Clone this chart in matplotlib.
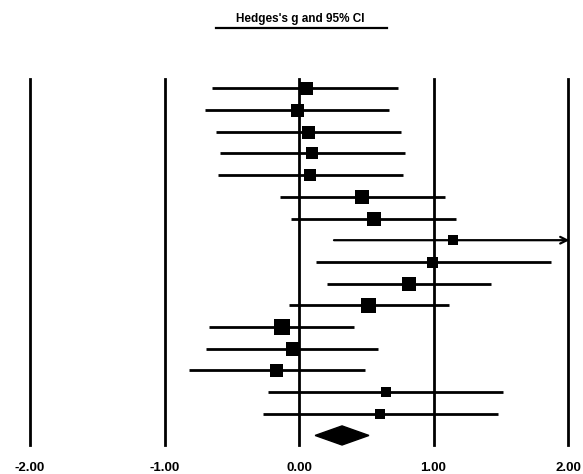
import matplotlib
matplotlib.use("Agg")
import matplotlib.pyplot as plt
from matplotlib.lines import Line2D

plt.rcParams['font.family'] = ['Liberation Sans', 'DejaVu Sans']

# Hedges's g, lower and upper 95% limits for each study (top to bottom)
g = [0.05, -0.015, 0.067, 0.10, 0.082, 0.47, 0.555, 1.145, 0.99, 0.82,
     0.515, -0.13, -0.045, -0.17, 0.645, 0.605]
lower = [-0.645, -0.70, -0.62, -0.59, -0.60, -0.14, -0.057, 0.26, 0.124, 0.21,
         -0.077, -0.667, -0.69, -0.82, -0.23, -0.27]
upper = [0.734, 0.67, 0.76, 0.79, 0.77, 1.085, 1.167, 2.5, 1.87, 1.43,
         1.113, 0.407, 0.59, 0.49, 1.52, 1.48]
# relative study weights (drives box size)
weights = [13, 13, 13, 12, 12, 14, 14, 10, 11, 14, 15, 16, 14, 13, 10, 10]

# summary effect
summary_g = 0.32
summary_lo = 0.12
summary_hi = 0.52

ticks = [-2, -1, 0, 1, 2]
tick_labels = ['-2.00', '-1.00', '0.00', '1.00', '2.00']

W, H = 583, 474
fig = plt.figure(figsize=(W / 100, H / 100), dpi=100)
# axes spans x = -2..2 (px 30..568), vertical lines px 79..445
ax = fig.add_axes([30 / W, 1 - 445 / H, 538 / W, (445 - 79) / H])
ax.set_xlim(-2, 2)
ax.set_ylim(17.44, 0.57)

for t in ticks:
    ax.axvline(t, color='black', lw=2, clip_on=False)

xmax = ticks[-1]
for i in range(len(g)):
    y = i + 1
    if upper[i] > xmax:
        ax.annotate('', xy=(xmax + 0.01, y), xytext=(lower[i], y),
                    arrowprops=dict(arrowstyle='->', lw=1.6, color='black',
                                    shrinkA=0, shrinkB=0, mutation_scale=12),
                    annotation_clip=False)
    else:
        ax.plot([lower[i], upper[i]], [y, y], color='black', lw=2,
                solid_capstyle='butt')
    ax.plot(g[i], y, marker='s', color='black', ms=weights[i] * 0.72,
            mew=0, zorder=3)

ys = len(g) + 1
ax.fill([summary_lo, summary_g, summary_hi, summary_g],
        [ys, ys - 0.44, ys, ys + 0.44], color='black', zorder=3, clip_on=False)

ax.set_xticks(ticks)
ax.set_xticklabels(tick_labels, fontsize=9.5, fontweight='bold')
ax.tick_params(axis='x', length=0, pad=12)
ax.set_yticks([])
for s in ax.spines.values():
    s.set_visible(False)

fig.text(300 / W, 1 - 19 / H, "Hedges's g and 95% CI", ha='center', va='center',
         fontsize=8.5, fontweight='bold')
fig.add_artist(Line2D([216 / W, 387 / W], [1 - 27.5 / H, 1 - 27.5 / H],
                      color='black', lw=1.6))

fig.savefig('out.png', dpi=100)
